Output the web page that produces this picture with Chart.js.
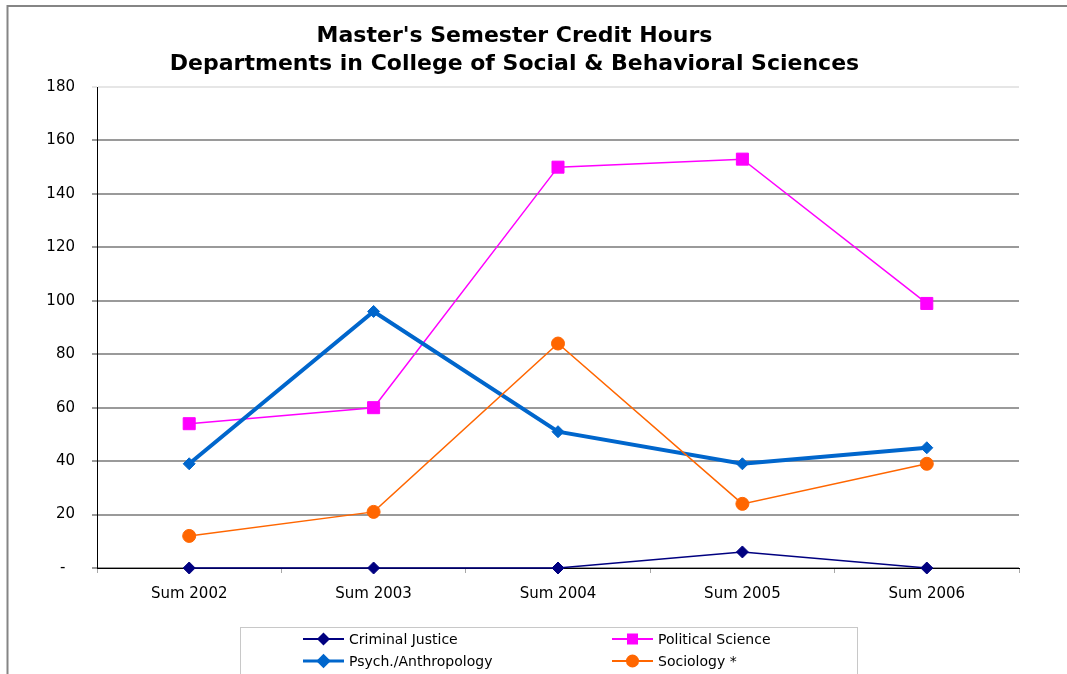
<!DOCTYPE html>
<html lang="en">
<head>
    <meta charset="UTF-8">
    <title>Master's Semester Credit Hours</title>
    <script src="https://cdn.jsdelivr.net/npm/chart.js"></script>
    <style>
        body { margin: 0; background: #fff; }
        canvas { display: block; }
    </style>
</head>
<body>
    <canvas id="creditChart" width="1067" height="674"></canvas>
    <script>
        // Summer terms and credit hours per department
        const terms = ['Sum 2002', 'Sum 2003', 'Sum 2004', 'Sum 2005', 'Sum 2006'];
        const criminalJustice = [0, 0, 0, 6, 0];
        const politicalScience = [54, 60, 150, 153, 99];
        const psychAnthro = [39, 96, 51, 39, 45];
        const sociology = [12, 21, 84, 24, 39];
        const yTicks = [0, 20, 40, 60, 80, 100, 120, 140, 160, 180];

        const FONT = "'DejaVu Sans', 'Liberation Sans', Arial, sans-serif";

        // grey frame around the chart object
        const framePlugin = {
            id: 'frame',
            beforeDraw(chart) {
                const ctx = chart.ctx;
                ctx.save();
                ctx.strokeStyle = '#858585';
                ctx.lineWidth = 2;
                ctx.beginPath();
                ctx.moveTo(7.5, chart.height);
                ctx.lineTo(7.5, 6);
                ctx.lineTo(chart.width, 6);
                ctx.stroke();
                ctx.restore();
            }
        };

        // boxed two-column legend under the axis
        const boxLegend = {
            id: 'boxLegend',
            afterDraw(chart) {
                const ctx = chart.ctx;
                const top = chart.height - 47;
                ctx.save();
                ctx.strokeStyle = '#c8c8c8';
                ctx.lineWidth = 1;
                ctx.strokeRect(240.5, top + 0.5, 617, 60);
                const cols = [303, 612];
                const rows = [top + 12, top + 34];
                const order = [0, 1, 2, 3];
                order.forEach((idx, i) => {
                    const ds = chart.data.datasets[idx];
                    const x = cols[i % 2];
                    const y = rows[Math.floor(i / 2)];
                    ctx.strokeStyle = ds.borderColor;
                    ctx.lineWidth = ds.borderWidth > 2 ? 3 : 2;
                    ctx.beginPath();
                    ctx.moveTo(x, y);
                    ctx.lineTo(x + 41, y);
                    ctx.stroke();
                    ctx.fillStyle = ds.pointBackgroundColor;
                    ctx.strokeStyle = ds.pointBorderColor;
                    Chart.helpers.drawPoint(ctx, {
                        pointStyle: ds.pointStyle,
                        radius: ds.legendRadius,
                        rotation: 0,
                        borderWidth: 1
                    }, x + 20.5, y);
                    ctx.fillStyle = '#000';
                    ctx.font = '14px ' + FONT;
                    ctx.textBaseline = 'middle';
                    ctx.textAlign = 'left';
                    ctx.fillText(ds.label, x + 46, y + 1);
                });
                ctx.restore();
            }
        };

        function series(label, data, color, style, radius, width, order) {
            return {
                label: label,
                data: data,
                borderColor: color,
                backgroundColor: color,
                pointBackgroundColor: color,
                pointBorderColor: color,
                pointStyle: style,
                pointRadius: radius,
                pointBorderWidth: 1,
                legendRadius: style === 'rect' ? radius * 0.75 : radius * 0.85,
                borderWidth: width,
                tension: 0,
                clip: false,
                order: order
            };
        }

        const ctx = document.getElementById('creditChart').getContext('2d');
        new Chart(ctx, {
            type: 'line',
            data: {
                labels: terms,
                datasets: [
                    series('Criminal Justice', criminalJustice, '#000080', 'rectRot', 6, 1.5, 4),
                    series('Political Science', politicalScience, '#FF00FF', 'rect', 8.5, 1.5, 3),
                    series('Psych./Anthropology', psychAnthro, '#0066CC', 'rectRot', 6, 4, 2),
                    series('Sociology *', sociology, '#FF6600', 'circle', 6.5, 1.5, 1)
                ]
            },
            options: {
                responsive: false,
                animation: false,
                layout: { padding: { left: 10, right: 48, top: 0, bottom: 71 } },
                plugins: {
                    legend: { display: false },
                    tooltip: { enabled: false },
                    title: {
                        display: true,
                        text: ["Master's Semester Credit Hours", 'Departments in College of Social & Behavioral Sciences'],
                        color: '#000',
                        font: { family: FONT, size: 22, weight: 'bold', lineHeight: 1.25 },
                        padding: { top: 23, bottom: 9 }
                    }
                },
                scales: {
                    x: {
                        offset: true,
                        afterFit(s) { s.height = 35; },
                        border: { color: '#000', width: 1 },
                        grid: { offset: true, drawOnChartArea: false, tickLength: 5, color: '#a8a8a8' },
                        ticks: { color: '#000', padding: 12, font: { family: FONT, size: 15 } }
                    },
                    y: {
                        min: 0,
                        max: 180,
                        afterFit(s) { s.width = 87; },
                        afterBuildTicks(s) { s.ticks = yTicks.map(v => ({ value: v })); },
                        border: { color: '#000', width: 1 },
                        grid: {
                            tickLength: 5,
                            lineWidth: 2,
                            color: c => c.tick && c.tick.value === 180 ? '#e6e6e6' : '#9a9a9a'
                        },
                        ticks: {
                            color: '#000',
                            padding: 17,
                            font: { family: FONT, size: 15 },
                            callback: v => v === 0 ? '-  ' : v
                        }
                    }
                }
            },
            plugins: [framePlugin, boxLegend]
        });
    </script>
</body>
</html>
